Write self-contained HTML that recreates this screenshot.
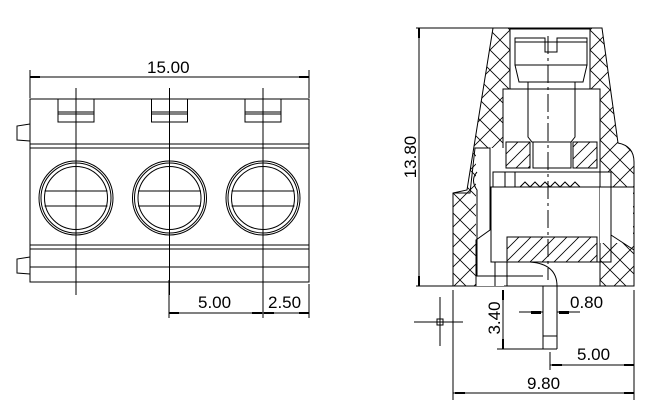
<!DOCTYPE html>
<html><head><meta charset="utf-8"><style>html,body{margin:0;padding:0;background:#fff}svg{display:block}text{font-family:"Liberation Sans",sans-serif;font-size:16px;fill:#000}</style></head>
<body>
<svg width="651" height="419" viewBox="0 0 651 419" xmlns="http://www.w3.org/2000/svg">
<defs>
<pattern id="h" width="20" height="20" patternUnits="userSpaceOnUse">
<path d="M0 0L20 20M20 0L0 20" stroke="#000" stroke-width="0.8"/>
</pattern>
<pattern id="d" width="12" height="12" patternUnits="userSpaceOnUse">
<path d="M0 12L12 0M-2 2L2 -2M10 14L14 10" stroke="#000" stroke-width="0.8"/>
</pattern>
</defs>
<g stroke="#000" stroke-width="1" fill="none">
<!-- LEFT VIEW -->
<line x1="30" y1="70" x2="30" y2="98"/><line x1="309" y1="70" x2="309" y2="98"/>
<line x1="30" y1="77" x2="309" y2="77"/>
<rect x="30" y="76" width="10" height="2" fill="#000" stroke="none"/><rect x="299" y="76" width="10" height="2" fill="#000" stroke="none"/>
<rect x="30" y="99" width="279" height="183"/>
<line x1="30" y1="144" x2="309" y2="144"/><line x1="30" y1="148" x2="309" y2="148"/>
<line x1="30" y1="245" x2="309" y2="245"/><line x1="30" y1="249" x2="309" y2="249"/>
<line x1="30" y1="267" x2="309" y2="267"/>
<path d="M30 124L17 126L17 140L30 141M30 257L17 259L17 273L30 274"/>
<g id="u">
<rect x="58" y="99" width="36" height="23"/>
<line x1="58" y1="112" x2="94" y2="112"/><line x1="58" y1="114" x2="94" y2="114"/>
<circle cx="76" cy="198" r="37"/><circle cx="76" cy="198" r="35"/><circle cx="76" cy="198" r="31.5"/>
<path d="M44.5 191H107.5M44.5 206H107.5"/>
<line x1="76" y1="88" x2="76" y2="295"/>
</g>
<use href="#u" x="93.5"/><use href="#u" x="187"/>
<line x1="169" y1="280" x2="169" y2="318"/><line x1="263" y1="280" x2="263" y2="318"/><line x1="309" y1="284" x2="309" y2="318"/>
<line x1="169" y1="313" x2="309" y2="313"/>
<g fill="#000" stroke="none"><rect x="169" y="312" width="10" height="2"/><rect x="252" y="312" width="10" height="2"/><rect x="264" y="312" width="10" height="2"/><rect x="299" y="312" width="10" height="2"/></g>
<!-- RIGHT VIEW -->
<path d="M493 28H602L618 143Q634 146 634 162V286H453V193L467 190Z" fill="url(#h)"/>
<rect x="510" y="29" width="80" height="61" fill="#fff"/>
<rect x="503" y="89" width="97" height="197" fill="#fff"/>
<rect x="476" y="148" width="28" height="138" fill="#fff" stroke="none"/>
<rect x="600" y="187" width="33" height="56" fill="#fff" stroke="none"/>
<path d="M600 187H634M611 235L634 250"/>
<path d="M453 193H470L475 148H490V230L476 240L476 286"/>
<line x1="416" y1="28" x2="493" y2="28"/><line x1="416" y1="286" x2="453" y2="286"/>
<line x1="419" y1="28" x2="419" y2="286"/>
<rect x="418" y="28" width="2" height="10" fill="#000" stroke="none"/><rect x="418" y="276" width="2" height="10" fill="#000" stroke="none"/>
<path d="M515 38H545V52H557V38H587V65H515Z"/>
<path d="M515 42H587M515 65L519 82H583L587 65"/>
<path d="M528 82V137L532 142H571L575 137V82"/>
<rect x="506" y="142" width="24" height="26" fill="url(#d)"/><rect x="573" y="142" width="24" height="26" fill="url(#d)"/>
<rect x="533" y="142" width="38" height="26"/>
<rect x="493" y="172" width="118" height="15" fill="#fff"/>
<path d="M505 172V187M515 172V187M600 172V187M520 187L525 182L530 187L535 182L540 187L545 182L550 187L555 182L560 187L565 182L570 187L575 182L580 187"/>
<path d="M491 187H611V262H491Z"/>
<rect x="507" y="237" width="90" height="25" fill="url(#d)"/>
<path d="M477 172Q470 180 477 190V276H543M476 240V286M495 262V286M507 262V286M543 286V349M557 286V349M497 349H557M543 336H557"/>
<path d="M530 262Q557 264 557 286"/>
<line x1="548" y1="36" x2="548" y2="280" stroke-dasharray="18 4 3 4"/>
<line x1="453" y1="290" x2="453" y2="400"/><line x1="634" y1="290" x2="634" y2="400"/>
<line x1="550" y1="352" x2="550" y2="370"/>
<line x1="503" y1="290" x2="503" y2="349"/>
<rect x="502" y="290" width="2" height="10" fill="#000" stroke="none"/><rect x="502" y="339" width="2" height="10" fill="#000" stroke="none"/>
<line x1="519" y1="312" x2="543" y2="312"/><line x1="557" y1="312" x2="580" y2="312"/>
<rect x="531" y="311" width="10" height="3" fill="#000" stroke="none"/><rect x="559" y="311" width="10" height="3" fill="#000" stroke="none"/>
<line x1="550" y1="365" x2="634" y2="365"/>
<rect x="552" y="364" width="10" height="2" fill="#000" stroke="none"/><rect x="624" y="364" width="10" height="2" fill="#000" stroke="none"/>
<line x1="453" y1="393" x2="634" y2="393"/>
<rect x="455" y="392" width="10" height="2" fill="#000" stroke="none"/><rect x="624" y="392" width="10" height="2" fill="#000" stroke="none"/>
<path d="M414 322H463M440 297V346"/>
<rect x="437" y="319" width="6" height="6"/>
</g>
<text x="147" y="73" style="font-size:17px">15.00</text>
<text x="198" y="308" style="font-size:17px">5.00</text>
<text x="268" y="308" style="font-size:17px">2.50</text>
<text x="416" y="157" transform="rotate(-90 416 157)" text-anchor="middle" style="font-size:17px">13.80</text>
<text x="500" y="318" transform="rotate(-90 500 318)" text-anchor="middle" style="font-size:17px">3.40</text>
<text x="570" y="308" style="font-size:17px">0.80</text>
<text x="577" y="360" style="font-size:17px">5.00</text>
<text x="527" y="389" style="font-size:17px">9.80</text>
</svg>
</body></html>
